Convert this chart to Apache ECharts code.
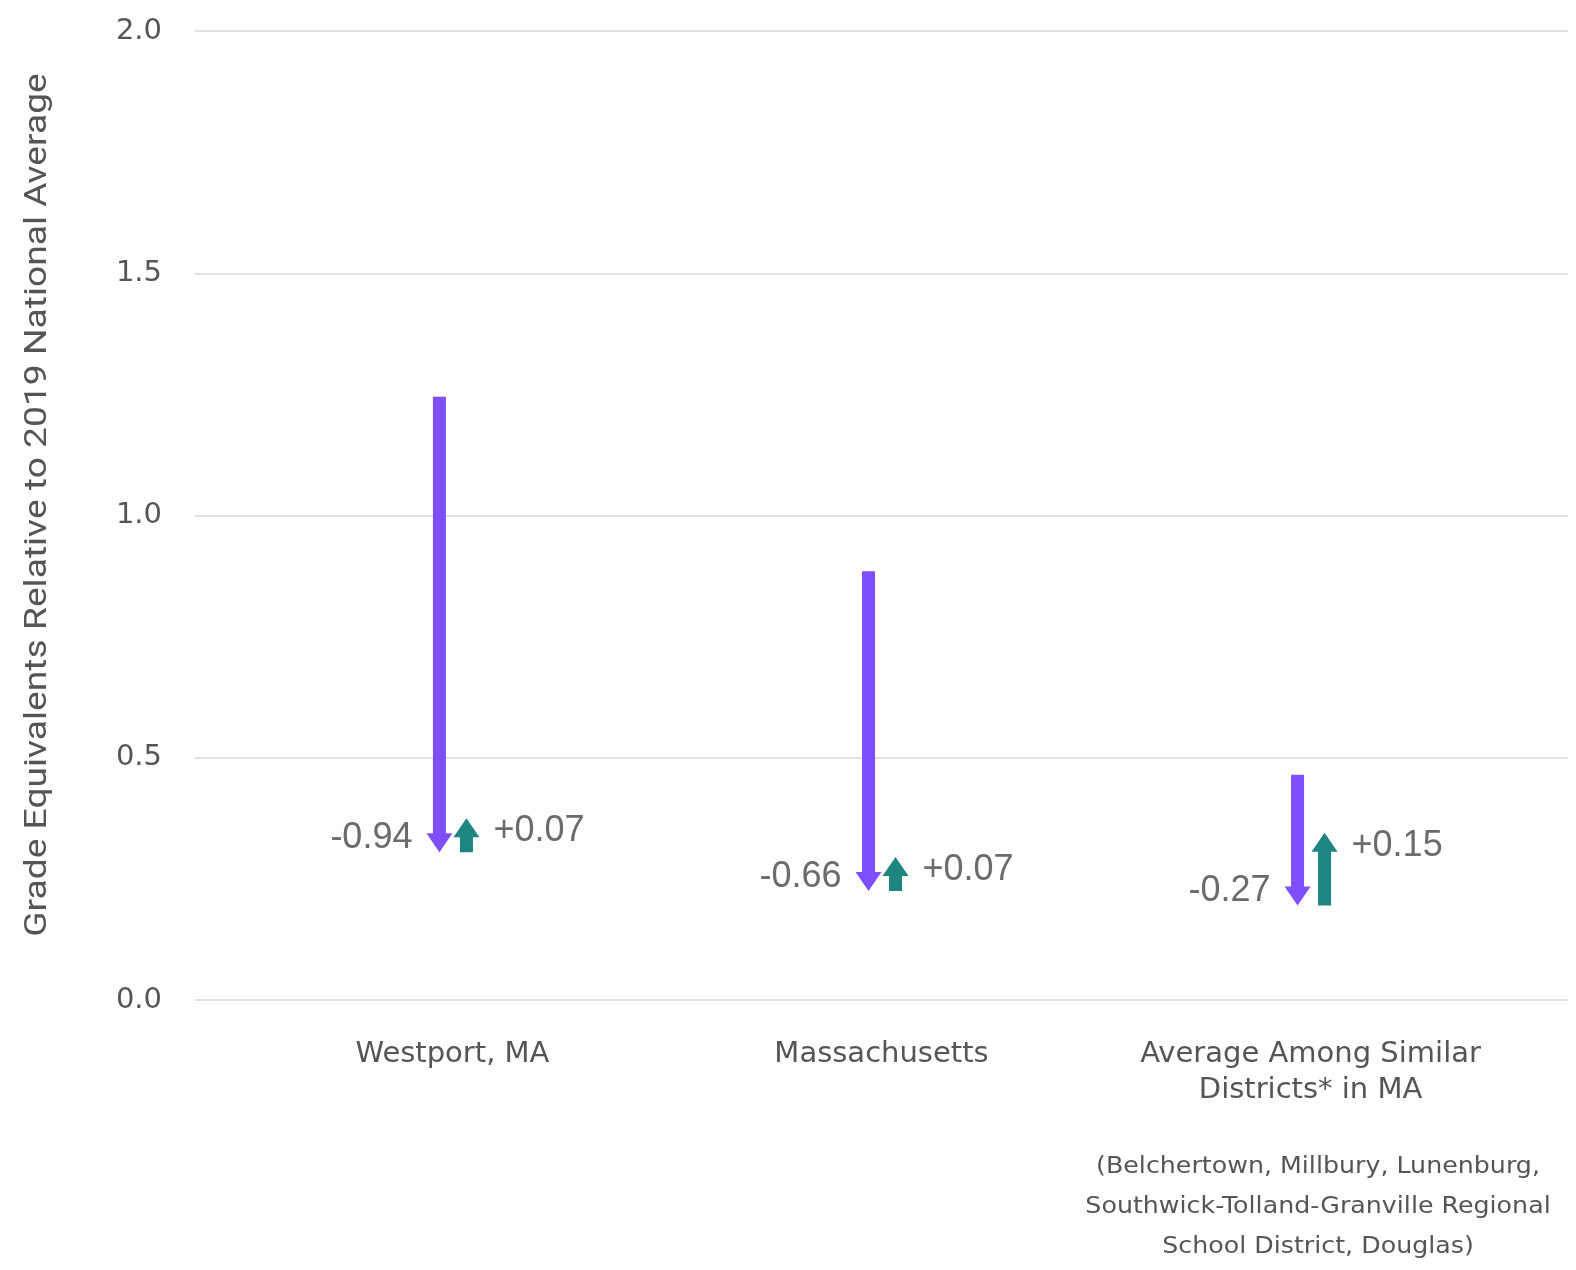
<!DOCTYPE html>
<html>
<head>
<meta charset="utf-8">
<script src="https://cdn.jsdelivr.net/npm/echarts@6/dist/echarts.min.js"></script>
<style>
html,body{margin:0;padding:0;background:#fff;overflow:hidden;}
#chart{width:1576px;height:1270px;}
</style>
</head>
<body>
<div id="chart"></div>
<script>
var categories = ['Westport, MA', 'Massachusetts', 'Average Among Similar\nDistricts* in MA'];
var startValues = [1.245, 0.885, 0.465];
var declines = [-0.94, -0.66, -0.27];
var recoveries = [0.07, 0.07, 0.15];
var footnote = '(Belchertown, Millbury, Lunenburg,\nSouthwick-Tolland-Granville Regional\nSchool District, Douglas)';
var yAxisTitle = 'Grade Equivalents Relative to 2019 National Average';

var PURPLE = '#7f4fff';
var TEAL = '#1e8580';
var LABEL = '#6b6b6b';

function fmt(v) { return (v > 0 ? '+' : '') + v.toFixed(2); }

var declineData = categories.map(function (c, i) { return [i, startValues[i], declines[i]]; });
var recoveryData = categories.map(function (c, i) {
  return [i, startValues[i] + declines[i], recoveries[i]];
});

function arrow(cx, yFrom, yTo, color) {
  var shaftHalf = 6.5, headHalf = 13, headLen = 19;
  var dir = yTo > yFrom ? 1 : -1;
  var yHead = yTo - dir * headLen;
  return {
    type: 'polygon',
    shape: { points: [
      [cx - shaftHalf, yFrom], [cx + shaftHalf, yFrom],
      [cx + shaftHalf, yHead], [cx + headHalf, yHead],
      [cx, yTo], [cx - headHalf, yHead], [cx - shaftHalf, yHead]
    ] },
    style: { fill: color }
  };
}

function renderDecline(params, api) {
  var x = api.value(0), s = api.value(1), d = api.value(2);
  var p0 = api.coord([x, s]);
  var p1 = api.coord([x, s + d]);
  var cx = p0[0] - 13;
  return {
    type: 'group',
    children: [
      arrow(cx, p0[1], p1[1], PURPLE),
      {
        type: 'text',
        style: {
          x: cx - 27, y: p1[1] - 14, text: fmt(d),
          align: 'right', verticalAlign: 'middle',
          fill: LABEL, fontSize: 36, fontFamily: 'Liberation Sans, Arial, sans-serif'
        }
      }
    ]
  };
}

function renderRecovery(params, api) {
  var x = api.value(0), s = api.value(1), d = api.value(2);
  var p0 = api.coord([x, s]);
  var p1 = api.coord([x, s + d]);
  var cx = p0[0] + 14;
  return {
    type: 'group',
    children: [
      arrow(cx, p0[1], p1[1], TEAL),
      {
        type: 'text',
        style: {
          x: cx + 27, y: p1[1] + 13, text: fmt(d),
          align: 'left', verticalAlign: 'middle',
          fill: LABEL, fontSize: 36, fontFamily: 'Liberation Sans, Arial, sans-serif'
        }
      }
    ]
  };
}

var chart = echarts.init(document.getElementById('chart'));
chart.setOption({
  backgroundColor: '#fff',
  animation: false,
  grid: { left: 195, right: 8, top: 31, bottom: 270 },
  xAxis: {
    type: 'value', min: -0.6, max: 2.6,
    splitLine: { show: false }, axisLine: { show: false }, axisTick: { show: false },
    axisLabel: {
      customValues: [0, 1, 2],
      formatter: function (v) { return categories[Math.round(v)]; },
      margin: 36, fontSize: 29, lineHeight: 36, color: '#555',
      fontFamily: 'DejaVu Sans, sans-serif', align: 'center'
    }
  },
  yAxis: {
    type: 'value', min: 0, max: 2, interval: 0.5,
    axisLine: { show: false }, axisTick: { show: false },
    axisLabel: {
      formatter: function (v) { return v.toFixed(1); },
      fontSize: 29, color: '#555', margin: 33, fontFamily: 'DejaVu Sans, sans-serif'
    },
    splitLine: { lineStyle: { color: '#e2e2e2', width: 2 } }
  },
  graphic: [{
    type: 'text', x: 38, y: 505, rotation: Math.PI / 2, scaleX: 1.2, scaleY: 1,
    style: {
      text: yAxisTitle, align: 'center', verticalAlign: 'middle',
      fontSize: 31, fill: '#555', fontFamily: 'Roboto, sans-serif'
    }
  }, {
    type: 'text', x: 1318, y: 1147, scaleX: 1.1, scaleY: 1,
    style: {
      text: footnote, align: 'center', verticalAlign: 'top',
      fontSize: 23, lineHeight: 40, fill: '#555', fontFamily: 'DejaVu Sans, sans-serif'
    },
    z: 10
  }],
  series: [
    { type: 'custom', renderItem: renderDecline, data: declineData, encode: { x: 0, y: 1 }, clip: false },
    { type: 'custom', renderItem: renderRecovery, data: recoveryData, encode: { x: 0, y: 1 }, clip: false }
  ]
});
</script>
</body>
</html>
